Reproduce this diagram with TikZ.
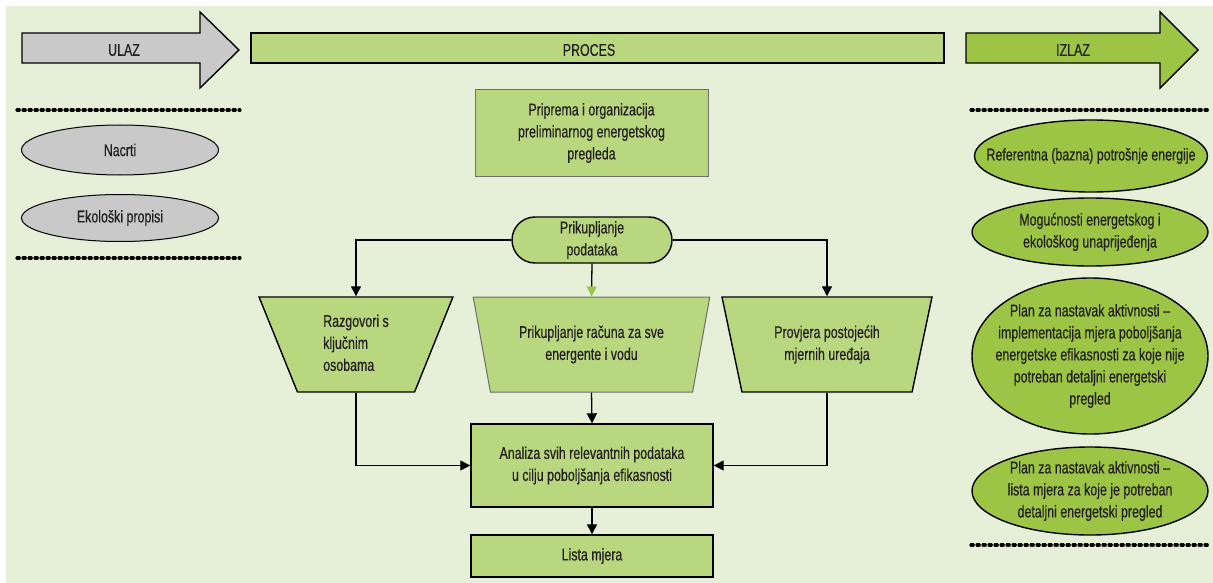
\documentclass[tikz,border=0pt]{standalone}
\usepackage{fontspec}
\setmainfont{Liberation Sans}[FakeStretch=0.73,FakeBold=0.4]
\usetikzlibrary{shapes.geometric,arrows.meta}
\definecolor{bgc}{HTML}{E6F0D8}
\definecolor{lgreen}{HTML}{B9D77F}
\definecolor{dgreen}{HTML}{9CC545}
\definecolor{grayfill}{HTML}{C9C9C9}
\definecolor{txt}{HTML}{231F20}
\definecolor{gborder}{HTML}{6E6E6E}
\begin{document}
\begin{tikzpicture}[x=1pt,y=-1pt,
  font=\fontsize{17}{22}\selectfont, text=txt,
  bigarrow/.style={draw=black, line width=1.4pt, line join=miter},
  lbox/.style={rectangle, fill=lgreen, draw=black, line width=1.4pt, align=center, inner sep=0pt},
  grayell/.style={ellipse, fill=grayfill, draw=black, line width=1pt, inner sep=0pt},
  greenell/.style={ellipse, fill=dgreen, draw=black, line width=1.4pt, inner sep=0pt},
  elltext/.style={label={[align=center, text=txt]center:#1}},
  trap/.style={trapezium, shape border rotate=180, trapezium angle=72, trapezium stretches=true,
     fill=lgreen, draw=black, line width=1.4pt, inner sep=0pt, align=center},
  dotline/.style={line width=3.2pt, line cap=round, dash pattern=on 2.3pt off 3.7pt, black},
  conn/.style={line width=1.3pt, -{Triangle[length=10pt,width=10pt]}},
  gconn/.style={line width=1.3pt, -{Triangle[length=10pt,width=10pt,fill=dgreen,color=dgreen]}}
]
\useasboundingbox (0,0) rectangle (1213,583);
\fill[white] (0,0) rectangle (1213,583);
\fill[bgc] (6,6) rectangle (1213,583);

% header arrows
\draw[bigarrow, fill=grayfill] (22,33) -- (200,33) -- (200,12) -- (239,50) -- (200,88) -- (200,63) -- (22,63) -- cycle;
\node (ulaz) at (124,50) {ULAZ};
\draw[bigarrow, fill=lgreen] (251,33) rectangle (944,63);
\node (proces) at (589,50) {PROCES};
\draw[bigarrow, fill=dgreen] (966,33) -- (1160,33) -- (1160,12) -- (1198,50) -- (1160,88) -- (1160,63) -- (966,63) -- cycle;
\node (izlaz) at (1073,50) {IZLAZ};

% dotted separators
\draw[dotline] (17,110) -- (240,110);
\draw[dotline] (17,258) -- (240,258);
\draw[dotline] (971,110) -- (1210,110);
\draw[dotline] (971,545) -- (1210,545);

% inputs
\node[grayell, minimum width=197pt, minimum height=50pt] (nacrti) at (120,150) {Nacrti};
\node[grayell, minimum width=197pt, minimum height=47pt] (eko) at (120,218) {Ekološki propisi};

% process
\node[lbox, draw=gborder, line width=1pt, minimum width=233pt, minimum height=86pt] (prip) at (591.5,133)
  {Priprema i organizacija\\preliminarnog energetskog\\pregleda};
\node[lbox, rounded corners=23pt, minimum width=160pt, minimum height=46pt] (prik) at (592,240)
  {Prikupljanje\\podataka};

\node[trap, minimum width=194pt, minimum height=95pt] (raz) at (356,344.5)
  {\begin{tabular}{@{}l@{}}Razgovori s\\ključnim\\osobama\end{tabular}};
\node[trap, draw=gborder, line width=1pt, minimum width=237pt, minimum height=95pt] (rac) at (591.5,344.5)
  {Prikupljanje računa za sve\\energente i vodu};
\node[trap, minimum width=210pt, minimum height=95pt] (prov) at (827,344.5)
  {Provjera postojećih\\mjernih uređaja};

\node[lbox, minimum width=242pt, minimum height=83pt] (anal) at (592,465.5)
  {Analiza svih relevantnih podataka\\u cilju poboljšanja efikasnosti};
\node[lbox, minimum width=242pt, minimum height=42pt] (lista) at (592,556)
  {Lista mjera};

\draw[conn] (prik.west) -| (raz.north);
\draw[conn] (prik.east) -| (prov.north);
\draw[gconn] (prik.south) -- (rac.north);
\draw[conn] (rac.south) -- (anal.north);
\draw[conn] (raz.south) |- (anal.west);
\draw[conn] (prov.south) |- (anal.east);
\draw[conn] (anal.south) -- (lista.north);

% outputs
\node[greenell, minimum width=233pt, minimum height=72pt,
  elltext={Referentna (bazna) potrošnje energije}] (ref) at (1091,156) {};
\node[greenell, minimum width=236pt, minimum height=68pt,
  elltext={Mogućnosti energetskog i\\ekološkog unaprijeđenja}] (mog) at (1090,232) {};
\node[greenell, minimum width=236pt, minimum height=156pt,
  elltext={Plan za nastavak aktivnosti –\\implementacija mjera poboljšanja\\energetske efikasnosti za koje nije\\potreban detaljni energetski\\pregled}] (plan1) at (1090,356) {};
\node[greenell, minimum width=236pt, minimum height=88pt,
  elltext={Plan za nastavak aktivnosti –\\lista mjera za koje je potreban\\detaljni energetski pregled}] (plan2) at (1090,491) {};
\end{tikzpicture}
\end{document}
